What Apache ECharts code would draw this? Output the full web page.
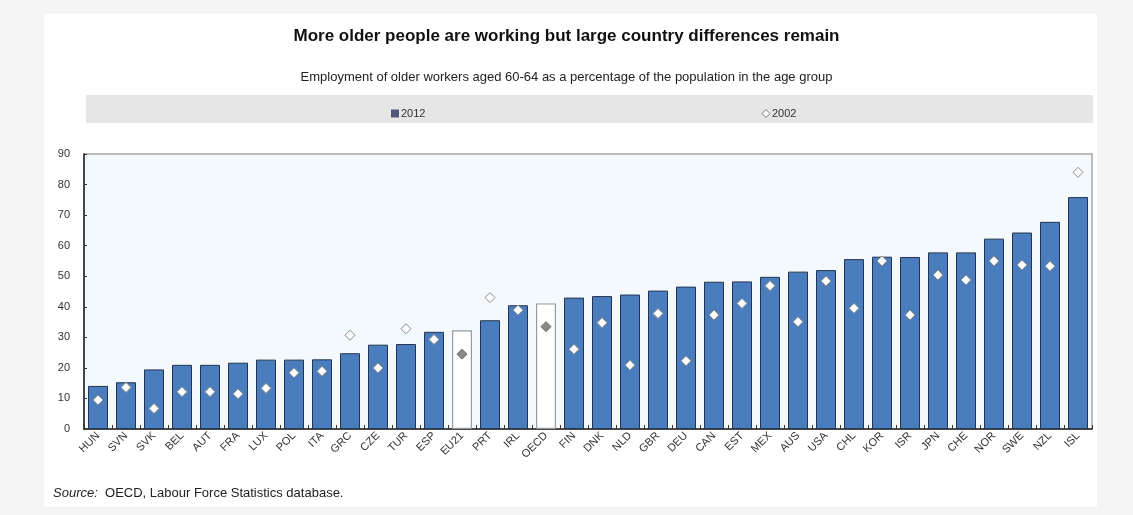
<!DOCTYPE html>
<html>
<head>
<meta charset="utf-8">
<script src="https://cdn.jsdelivr.net/npm/echarts@6/dist/echarts.min.js"></script>
<style>
html,body{margin:0;padding:0;background:#f5f5f5;}
#chart{width:1133px;height:515px;}
</style>
</head>
<body>
<div id="chart"></div>
<script>
const categories = ['HUN','SVN','SVK','BEL','AUT','FRA','LUX','POL','ITA','GRC','CZE','TUR','ESP','EU21','PRT','IRL','OECD','FIN','DNK','NLD','GBR','DEU','CAN','EST','MEX','AUS','USA','CHL','KOR','ISR','JPN','CHE','NOR','SWE','NZL','ISL'];
const values2012 = [14.1,15.3,19.5,21.0,21.0,21.7,22.7,22.7,22.8,24.8,27.6,27.8,31.8,32.3,35.6,40.5,41.1,43.0,43.5,44.0,45.3,46.6,48.2,48.3,49.8,51.5,52.0,55.6,56.4,56.3,57.8,57.8,62.3,64.3,67.8,75.9];
const values2002 = [9.5,13.6,6.7,12.2,12.2,11.5,13.3,18.4,18.9,30.7,20.0,32.8,29.3,24.5,43.0,38.9,33.5,26.1,34.8,20.9,37.8,22.3,37.3,41.1,46.9,35.1,48.4,39.5,55.0,37.3,50.4,48.8,55.0,53.7,53.3,84.0];
const aggregates = ['EU21','OECD'];
const yTicks = [0,10,20,30,40,50,60,70,80,90];

const FONT = '"Liberation Sans", Arial, sans-serif';
const chart = echarts.init(document.getElementById('chart'));

const barData = values2012.map((v,i) => aggregates.includes(categories[i])
  ? {value:v, itemStyle:{color:'#ffffff', borderColor:'#9a9a9a', borderWidth:1.2}}
  : v);
const dotData = values2002.map((v,i) => aggregates.includes(categories[i])
  ? {value:v, itemStyle:{color:'#8a8a8a', borderColor:'#6a6a6a'}}
  : v);

chart.setOption({
  backgroundColor:'#f5f5f5',
  animation:false,
  graphic:[
    {type:'rect', z:-10, shape:{x:44,y:14,width:1053,height:493}, style:{fill:'#ffffff'}},
    {type:'rect', z:-9, shape:{x:86,y:95,width:1007,height:28}, style:{fill:'#e6e6e6'}}
  ],
  title:[
    {text:'More older people are working but large country differences remain', left:'center', top:23,
     textStyle:{fontFamily:FONT, fontSize:17, fontWeight:'bold', color:'#111'}},
    {text:'Employment of older workers aged 60-64 as a percentage of the population in the age group', left:'center', top:66,
     textStyle:{fontFamily:FONT, fontSize:13, fontWeight:'normal', color:'#222'}},
    {text:'{i|Source:}  OECD, Labour Force Statistics database.', left:48, top:482,
     textStyle:{fontFamily:FONT, fontSize:13, fontWeight:'normal', color:'#222',
       rich:{i:{fontFamily:FONT, fontSize:13, fontStyle:'italic', color:'#222'}}}}
  ],
  legend:{
    top:103, left:386, itemGap:336, itemWidth:8, itemHeight:8,
    textStyle:{fontFamily:FONT, fontSize:11, color:'#333', padding:[0,0,0,-3]},
    data:[
      {name:'2012', icon:'rect', itemStyle:{color:'#50587a', borderWidth:0}},
      {name:'2002', icon:'diamond', itemStyle:{color:'#ffffff', borderColor:'#777', borderWidth:1}}
    ]
  },
  grid:{left:84, right:41, top:154, bottom:86, show:true, backgroundColor:'#f3f9fd', borderColor:'#a8a8a8', borderWidth:1.5},
  xAxis:{
    type:'category', data:categories,
    axisLine:{lineStyle:{color:'#222', width:1.5}},
    axisTick:{show:true, inside:true, length:4, lineStyle:{color:'#333'}},
    axisLabel:{rotate:45, fontFamily:FONT, fontSize:11, color:'#333', margin:5, interval:0}
  },
  yAxis:{
    type:'value', min:yTicks[0], max:yTicks[yTicks.length-1], interval:10,
    splitLine:{show:false},
    axisLine:{show:true, lineStyle:{color:'#222', width:1.5}},
    axisTick:{show:true, inside:true, length:3, lineStyle:{color:'#333'}},
    axisLabel:{fontFamily:FONT, fontSize:11, color:'#333', margin:14}
  },
  series:[
    {name:'2012', type:'bar', data:barData, barWidth:20,
     itemStyle:{color:'#4a7dbd', borderColor:'#25344f', borderWidth:1}},
    {name:'2002', type:'scatter', data:dotData, symbol:'diamond', symbolSize:10, z:5,
     itemStyle:{color:'#ffffff', borderColor:'#8a8a8a', borderWidth:1, opacity:1}}
  ]
});
</script>
</body>
</html>
